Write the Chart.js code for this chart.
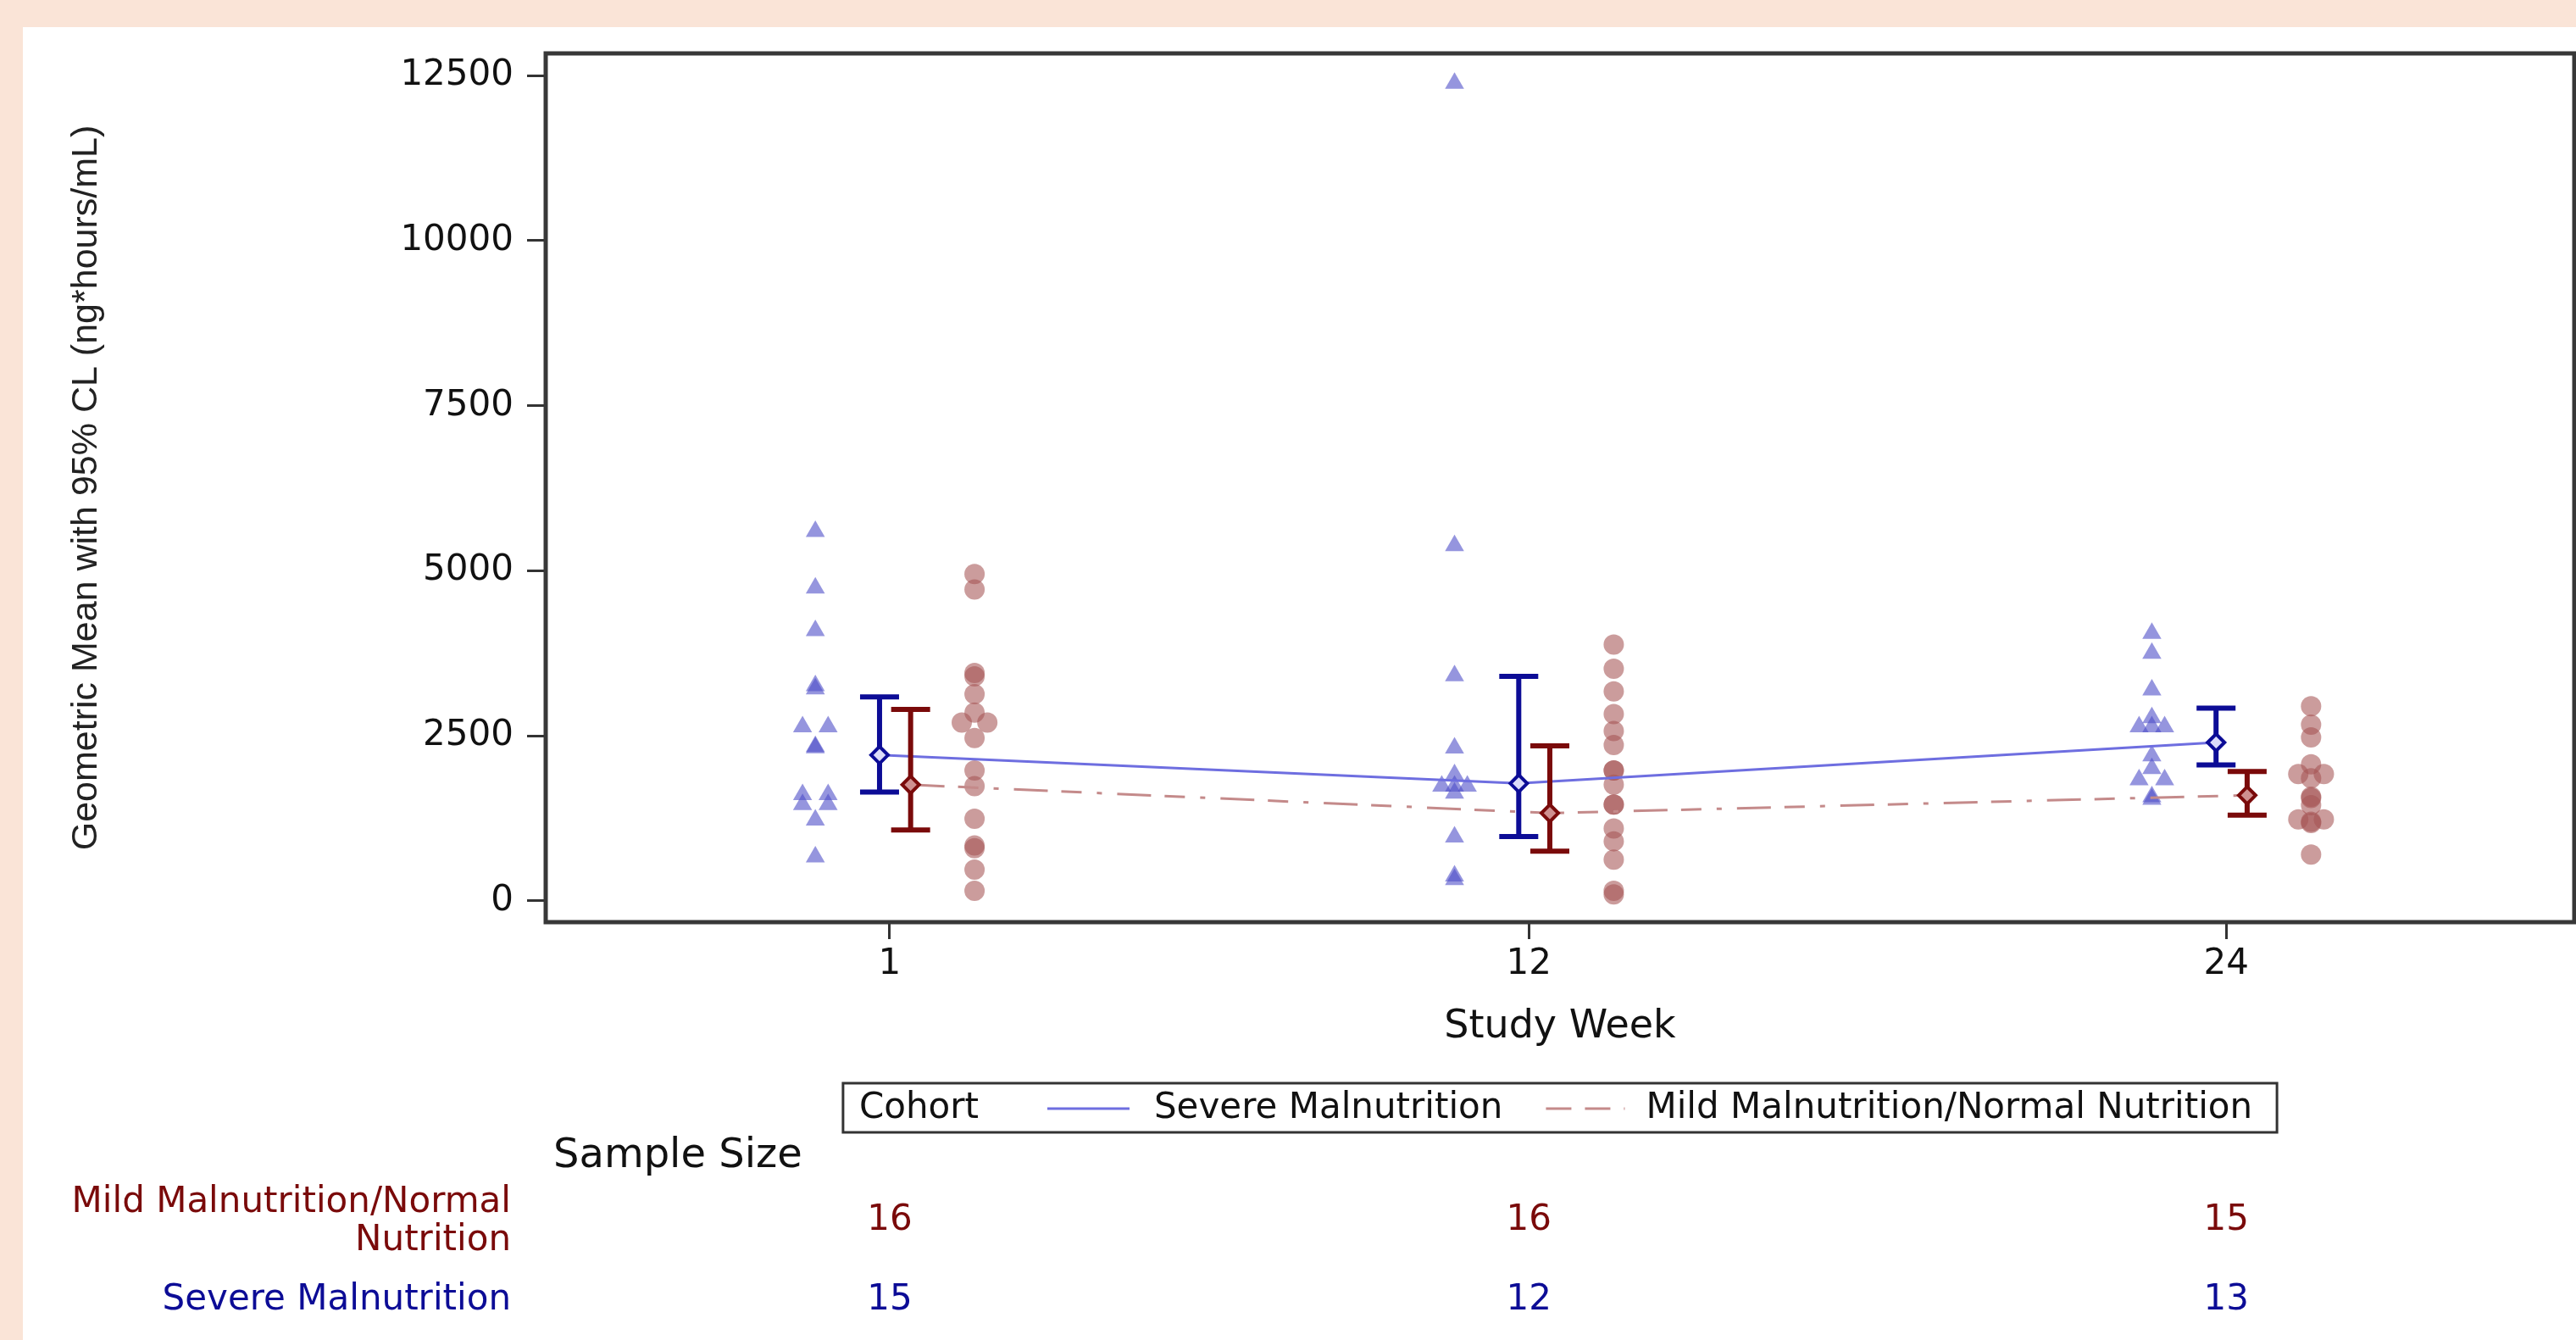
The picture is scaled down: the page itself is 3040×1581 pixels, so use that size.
<!DOCTYPE html>
<html>
<head>
<meta charset="utf-8">
<title>Geometric mean by study week</title>
<script src="https://cdn.jsdelivr.net/npm/chart.js@4.4.1/dist/chart.umd.min.js"></script>
<style>
  html, body { margin: 0; padding: 0; width: 3040px; height: 1581px; overflow: hidden; background: #fae4d7; }
  #panel { position: absolute; left: 27px; top: 32px; width: 3013px; height: 1549px; background: #ffffff; }
  #chart { display: block; }
</style>
</head>
<body>
<div id="panel"><canvas id="chart" width="3013" height="1549" style="width:3013px;height:1549px"></canvas></div>
<script>
// Axis
const weeks = [1, 12, 24];
const yTicks = [0, 2500, 5000, 7500, 10000, 12500];

// Geometric mean with 95% CL
const severeMean = [2210, 1780, 2400];
const severeLower = [1650, 975, 2060];
const severeUpper = [3090, 3400, 2920];
const mildMean = [1760, 1330, 1600];
const mildLower = [1075, 755, 1300];
const mildUpper = [2900, 2350, 1960];

// Individual subjects, one list per visit
const severeWk1 = [5594, 4738, 4095, 3260, 3210, 2638, 2638, 2339, 2320, 1610, 1610, 1461, 1461, 1225, 668];
const severeWk12 = [12380, 5380, 3409, 2317, 1911, 1739, 1739, 1739, 1632, 968, 380, 325];
const severeWk24 = [4052, 3752, 3196, 2776, 2638, 2638, 2638, 2198, 2006, 1835, 1835, 1578, 1540];
const mildWk1 = [4951, 4716, 3453, 3400, 3131, 2853, 2702, 2702, 2467, 1975, 1739, 1246, 839, 800, 475, 154];
const mildWk12 = [3881, 3517, 3174, 2831, 2574, 2360, 1975, 1975, 1760, 1461, 1461, 1096, 903, 626, 154, 100];
const mildWk24 = [2948, 2669, 2477, 2070, 1921, 1921, 1857, 1579, 1560, 1450, 1236, 1236, 1200, 1180, 702];

// side-by-side column of each subject (-1 left, 0 centre, 1 right)
const severeCol1 = [0, 0, 0, 0, 0, -1, 1, 0, 0, -1, 1, -1, 1, 0, 0];
const severeCol12 = [0, 0, 0, 0, 0, -1, 0, 1, 0, 0, 0, 0];
const severeCol24 = [0, 0, 0, 0, -1, 0, 1, 0, 0, -1, 1, 0, 0];
const mildCol1 = [0, 0, 0, 0, 0, 0, -1, 1, 0, 0, 0, 0, 0, 0, 0, 0];
const mildCol12 = [0, 0, 0, 0, 0, 0, 0, 0, 0, 0, 0, 0, 0, 0, 0, 0];
const mildCol24 = [0, 0, 0, 0, -1, 1, 0, 0, 0, 0, -1, 1, 0, 0, 0];

// Sample size table
const severeN = [15, 12, 13];
const mildN = [16, 16, 15];

const cohortLabels = ['Severe Malnutrition', 'Mild Malnutrition/Normal Nutrition'];

// group shifts around each visit, in weeks
const SEVERE_PTS = -1.28, SEVERE_BAR = -0.175, MILD_BAR = 0.36, MILD_PTS = 1.46, COL_STEP = 0.22;

const NAVY = '#0c0c96';
const MAROON = '#7a0a0a';

function cloud(lists, cols, shift) {
    const pts = [];
    lists.forEach((vals, i) => {
        vals.forEach((v, j) => pts.push({ x: weeks[i] + shift + cols[i][j] * COL_STEP, y: v }));
    });
    return pts;
}

function whiskers(lo, hi, shift) {
    const pts = [];
    weeks.forEach((w, i) => {
        pts.push({ x: w + shift, y: lo[i] }, { x: w + shift, y: hi[i] }, { x: w + shift, y: null });
    });
    return pts;
}

function caps(lo, hi, shift) {
    const pts = [];
    weeks.forEach((w, i) => {
        pts.push({ x: w + shift, y: lo[i] }, { x: w + shift, y: hi[i] });
    });
    return pts;
}

function means(vals, shift) {
    return weeks.map((w, i) => ({ x: w + shift, y: vals[i] }));
}

function noPadding(scale) {
    scale.paddingLeft = 0;
    scale.paddingRight = 0;
    scale.paddingTop = 0;
    scale.paddingBottom = 0;
}

// frame round the plot area
const frame = {
    id: 'frame',
    afterDatasetsDraw(chart) {
        const { ctx, chartArea: a } = chart;
        ctx.save();
        ctx.strokeStyle = '#383838';
        ctx.lineWidth = 5;
        ctx.strokeRect(a.left, a.top, a.right - a.left, a.bottom - a.top);
        ctx.restore();
    }
};

// cohort legend box and sample size rows
const footer = {
    id: 'footer',
    afterDraw(chart) {
        const { ctx, chartArea: a, scales: { x } } = chart;
        const sets = chart.data.datasets;
        const severeLine = sets.find(d => d.label === cohortLabels[0]);
        const mildLine = sets.find(d => d.label === cohortLabels[1]);

        ctx.save();
        ctx.font = '42px "DejaVu Sans"';
        ctx.textBaseline = 'middle';
        ctx.textAlign = 'left';

        // legend
        const wCohort = ctx.measureText('Cohort').width;
        const wSevere = ctx.measureText(cohortLabels[0]).width;
        const wMild = ctx.measureText(cohortLabels[1]).width;
        const total = 19 + wCohort + 81 + 97 + 29 + wSevere + 51 + 93 + 25 + wMild + 29;
        const boxLeft = (a.left + a.right) / 2 - total / 2;
        const boxTop = 1246, boxH = 58, mid = boxTop + boxH / 2 + 1;
        ctx.strokeStyle = '#333';
        ctx.lineWidth = 3;
        ctx.strokeRect(boxLeft, boxTop, total, boxH);

        let cx = boxLeft + 19;
        ctx.fillStyle = '#111';
        ctx.fillText('Cohort', cx, mid);
        cx += wCohort + 81;
        ctx.strokeStyle = severeLine.borderColor;
        ctx.lineWidth = severeLine.borderWidth;
        ctx.setLineDash(severeLine.borderDash || []);
        ctx.beginPath(); ctx.moveTo(cx, mid); ctx.lineTo(cx + 97, mid); ctx.stroke();
        cx += 97 + 29;
        ctx.fillText(cohortLabels[0], cx, mid);
        cx += wSevere + 51;
        ctx.strokeStyle = mildLine.borderColor;
        ctx.lineWidth = mildLine.borderWidth;
        ctx.setLineDash([30, 16, 30, 16]);
        ctx.beginPath(); ctx.moveTo(cx, mid); ctx.lineTo(cx + 93, mid); ctx.stroke();
        ctx.setLineDash([]);
        cx += 93 + 25;
        ctx.fillText(cohortLabels[1], cx, mid);

        // sample size
        ctx.font = '48px "DejaVu Sans"';
        ctx.fillStyle = '#111';
        ctx.fillText('Sample Size', 626, 1333);

        ctx.font = '42px "DejaVu Sans"';
        ctx.textAlign = 'right';
        ctx.fillStyle = MAROON;
        ctx.fillText('Mild Malnutrition/Normal', 576, 1387);
        ctx.fillText('Nutrition', 576, 1432);
        ctx.fillStyle = NAVY;
        ctx.fillText(cohortLabels[0], 576, 1502);

        ctx.textAlign = 'center';
        weeks.forEach((w, i) => {
            const px = x.getPixelForValue(w);
            ctx.fillStyle = MAROON;
            ctx.fillText(String(mildN[i]), px, 1408);
            ctx.fillStyle = NAVY;
            ctx.fillText(String(severeN[i]), px, 1502);
        });
        ctx.restore();
    }
};

const ctxMain = document.getElementById('chart').getContext('2d');
const mainChart = new Chart(ctxMain, {
    type: 'scatter',
    data: {
        datasets: [
            {
                label: 'Severe mean',
                data: means(severeMean, SEVERE_BAR),
                pointStyle: 'rectRot',
                pointRadius: 10,
                borderWidth: 4,
                borderColor: NAVY,
                backgroundColor: '#dcdcfa'
            },
            {
                label: 'Mild mean',
                data: means(mildMean, MILD_BAR),
                pointStyle: 'rectRot',
                pointRadius: 10,
                borderWidth: 4,
                borderColor: MAROON,
                backgroundColor: '#cf9090'
            },
            {
                label: 'Severe caps',
                data: caps(severeLower, severeUpper, SEVERE_BAR),
                pointStyle: 'line',
                pointRadius: 23,
                borderWidth: 6,
                borderColor: NAVY
            },
            {
                label: 'Mild caps',
                data: caps(mildLower, mildUpper, MILD_BAR),
                pointStyle: 'line',
                pointRadius: 23,
                borderWidth: 6,
                borderColor: MAROON
            },
            {
                type: 'line',
                label: 'Severe CL',
                data: whiskers(severeLower, severeUpper, SEVERE_BAR),
                borderColor: NAVY,
                borderWidth: 6,
                pointRadius: 0,
                spanGaps: false
            },
            {
                type: 'line',
                label: 'Mild CL',
                data: whiskers(mildLower, mildUpper, MILD_BAR),
                borderColor: MAROON,
                borderWidth: 6,
                pointRadius: 0,
                spanGaps: false
            },
            {
                type: 'line',
                label: cohortLabels[0],
                data: means(severeMean, SEVERE_BAR),
                borderColor: '#6e6ee0',
                borderWidth: 3,
                pointRadius: 0,
                tension: 0
            },
            {
                type: 'line',
                label: cohortLabels[1],
                data: means(mildMean, MILD_BAR),
                borderColor: '#c48a8a',
                borderWidth: 3,
                borderDash: [40, 16, 24, 18, 6, 18],
                pointRadius: 0,
                tension: 0
            },
            {
                label: 'Severe subjects',
                data: cloud([severeWk1, severeWk12, severeWk24], [severeCol1, severeCol12, severeCol24], SEVERE_PTS),
                pointStyle: 'triangle',
                pointRadius: 13,
                borderWidth: 0,
                backgroundColor: 'rgba(78, 78, 200, 0.6)'
            },
            {
                label: 'Mild subjects',
                data: cloud([mildWk1, mildWk12, mildWk24], [mildCol1, mildCol12, mildCol24], MILD_PTS),
                pointStyle: 'circle',
                pointRadius: 12,
                borderWidth: 0,
                backgroundColor: 'rgba(165, 85, 85, 0.58)'
            }
        ]
    },
    options: {
        responsive: false,
        animation: false,
        events: [],
        layout: { autoPadding: false, padding: { left: 49, top: 31, right: 2, bottom: 341 } },
        plugins: {
            legend: { display: false },
            tooltip: { enabled: false }
        },
        scales: {
            x: {
                type: 'linear',
                min: -4.92,
                max: 29.99,
                afterBuildTicks: scale => { scale.ticks = weeks.map(v => ({ value: v })); },
                afterFit: scale => { scale.height = 152; noPadding(scale); },
                border: { display: false },
                grid: { drawOnChartArea: false, tickLength: 20, tickWidth: 3, tickColor: '#333' },
                ticks: {
                    padding: 5,
                    color: '#111',
                    font: { family: 'DejaVu Sans', size: 42 },
                    callback: v => String(v)
                },
                title: {
                    display: true,
                    text: 'Study Week',
                    color: '#111',
                    padding: { top: 0, bottom: 0 },
                    font: { family: 'DejaVu Sans', size: 46 }
                }
            },
            y: {
                type: 'linear',
                min: -321,
                max: 12834,
                afterBuildTicks: scale => { scale.ticks = yTicks.map(v => ({ value: v })); },
                afterFit: scale => { scale.width = 568; noPadding(scale); },
                border: { display: false },
                grid: { drawOnChartArea: false, tickLength: 22, tickWidth: 3, tickColor: '#333' },
                ticks: {
                    padding: 16,
                    color: '#111',
                    font: { family: 'DejaVu Sans', size: 42 },
                    callback: v => String(v)
                },
                title: {
                    display: true,
                    text: 'Geometric Mean with 95% CL (ng*hours/mL)',
                    color: '#222',
                    padding: { top: 0, bottom: 0 },
                    font: { family: 'Liberation Sans', size: 43 }
                }
            }
        }
    },
    plugins: [frame, footer]
});
</script>
</body>
</html>
